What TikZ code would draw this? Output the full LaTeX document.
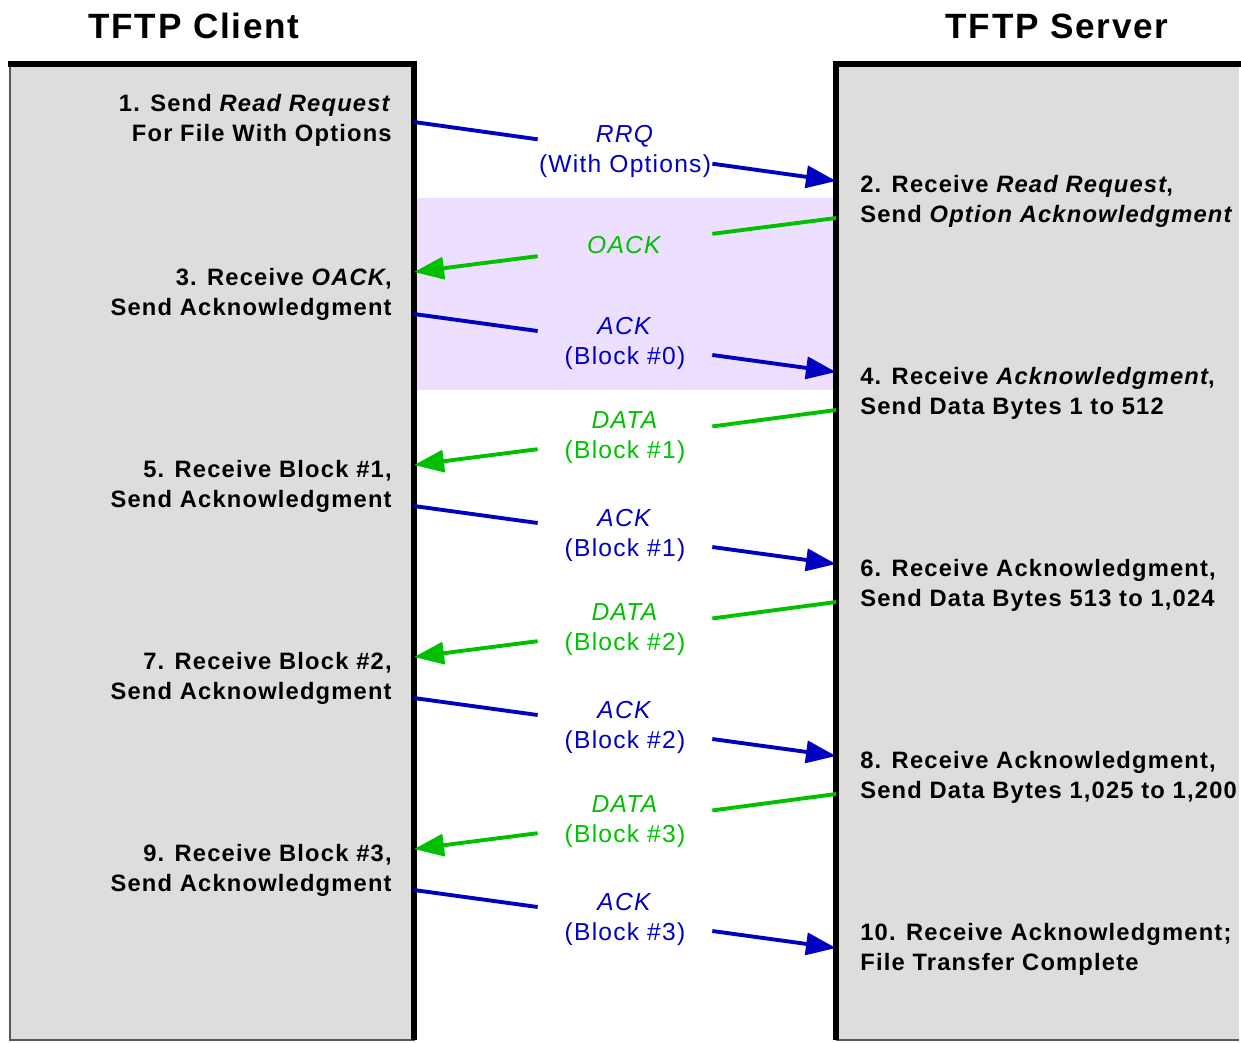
\documentclass[tikz,border=0pt]{standalone}
\usepackage{fontspec}
\setmainfont{Liberation Sans}[LetterSpace=5]
\usepackage{tikz}
\usetikzlibrary{arrows.meta}
\definecolor{requestc}{HTML}{0000C0}
\definecolor{replyc}{HTML}{00C000}
\definecolor{panelc}{HTML}{DDDDDD}
\definecolor{bandc}{HTML}{EDDFFF}
\tikzset{
  titlenode/.style={inner sep=0pt, font=\fontsize{20}{24}\selectfont\bfseries},
  stagenode/.style={inner sep=0pt, font=\fontsize{13.5}{17.07}\selectfont\bfseries},
  clientnode/.style={stagenode, anchor=east, align=right},
  servernode/.style={stagenode, anchor=west, align=left},
  msgnode/.style={inner sep=0pt, minimum width=3.48cm, minimum height=0.9cm,
    align=center, font=\fontsize{14}{17.07}\selectfont},
  requestnode/.style={msgnode, text=requestc},
  replynode/.style={msgnode, text=replyc},
  requestedge/.style={draw=requestc, line width=2.2pt},
  replyedge/.style={draw=replyc, line width=2.2pt},
  tipped/.style={-{Triangle[length=6mm, width=4.4mm]}},
  panel/.style={fill=panelc, draw=black!65, line width=0.8pt},
  rim/.style={draw=black, line width=3.2pt},
}

\begin{document}
\begin{tikzpicture}[x=0.02cm, y=-0.02cm]
  \useasboundingbox (0,0) rectangle (1241,1042);
  % the two hosts
  \draw[panel] (10,64) rectangle (414,1040);
  \fill[panelc] (836,64) rectangle (1239,1040);
  \draw[black!65, line width=0.8pt] (836,1040) -- (1239,1040);
  \fill[bandc] (414,198) rectangle (836,390);
  \draw[rim] (8,64) -- (414,64) -- (414,1040);
  \draw[rim] (836,1040) -- (836,64) -- (1241,64);
  \node[titlenode] (clienttitle) at (194,26) {TFTP Client};
  \node[titlenode] (servertitle) at (1057,26) {TFTP Server};

  % client steps
  \node[clientnode] (c1) at (392,120) {1. Send \textit{Read Request}\\For File With Options};
  \node[clientnode] (c3) at (392,294) {3. Receive \textit{OACK},\\Send Acknowledgment};
  \node[clientnode] (c5) at (392,486) {5. Receive Block \#1,\\Send Acknowledgment};
  \node[clientnode] (c7) at (392,678) {7. Receive Block \#2,\\Send Acknowledgment};
  \node[clientnode] (c9) at (392,870) {9. Receive Block \#3,\\Send Acknowledgment};

  % server steps
  \node[servernode] (s2) at (860,201) {2. Receive \textit{Read Request},\\Send \textit{Option Acknowledgment}};
  \node[servernode] (s4) at (860,393) {4. Receive \textit{Acknowledgment},\\Send Data Bytes 1 to 512};
  \node[servernode] (s6) at (860,585) {6. Receive Acknowledgment,\\Send Data Bytes 513 to 1,024};
  \node[servernode] (s8) at (860,777) {8. Receive Acknowledgment,\\Send Data Bytes 1,025 to 1,200};
  \node[servernode] (s10) at (860,949) {10. Receive Acknowledgment;\\File Transfer Complete};

  % read request
  \coordinate (rrqa) at (414,122);
  \coordinate (rrqb) at (836,181);
  \node[requestnode] (rrq) at (625,151.5) {\textit{RRQ}\\(With Options)};
  \draw[requestedge] (rrqa) -- (rrq);
  \draw[requestedge, tipped] (rrq) -- (rrqb);

  % option ack
  \coordinate (oackb) at (836,218);
  \coordinate (oacka) at (414,272);
  \node[replynode] (oack) at (625,245) {\textit{OACK}};
  \draw[replyedge] (oackb) -- (oack);
  \draw[replyedge, tipped] (oack) -- (oacka);

  % ack 0
  \coordinate (ack0a) at (414,314);
  \coordinate (ack0b) at (836,372);
  \node[requestnode] (ack0) at (625,343) {\textit{ACK}\\(Block \#0)};
  \draw[requestedge] (ack0a) -- (ack0);
  \draw[requestedge, tipped] (ack0) -- (ack0b);

  % data 1
  \coordinate (data1b) at (836,410);
  \coordinate (data1a) at (414,465);
  \node[replynode] (data1) at (625,438) {\textit{DATA}\\(Block \#1)};
  \draw[replyedge] (data1b) -- (data1);
  \draw[replyedge, tipped] (data1) -- (data1a);

  % ack 1
  \coordinate (ack1a) at (414,506);
  \coordinate (ack1b) at (836,564);
  \node[requestnode] (ack1) at (625,535) {\textit{ACK}\\(Block \#1)};
  \draw[requestedge] (ack1a) -- (ack1);
  \draw[requestedge, tipped] (ack1) -- (ack1b);

  % data 2
  \coordinate (data2b) at (836,602);
  \coordinate (data2a) at (414,657);
  \node[replynode] (data2) at (625,630) {\textit{DATA}\\(Block \#2)};
  \draw[replyedge] (data2b) -- (data2);
  \draw[replyedge, tipped] (data2) -- (data2a);

  % ack 2
  \coordinate (ack2a) at (414,698);
  \coordinate (ack2b) at (836,756);
  \node[requestnode] (ack2) at (625,727) {\textit{ACK}\\(Block \#2)};
  \draw[requestedge] (ack2a) -- (ack2);
  \draw[requestedge, tipped] (ack2) -- (ack2b);

  % data 3
  \coordinate (data3b) at (836,794);
  \coordinate (data3a) at (414,849);
  \node[replynode] (data3) at (625,822) {\textit{DATA}\\(Block \#3)};
  \draw[replyedge] (data3b) -- (data3);
  \draw[replyedge, tipped] (data3) -- (data3a);

  % ack 3
  \coordinate (ack3a) at (414,890);
  \coordinate (ack3b) at (836,948);
  \node[requestnode] (ack3) at (625,919) {\textit{ACK}\\(Block \#3)};
  \draw[requestedge] (ack3a) -- (ack3);
  \draw[requestedge, tipped] (ack3) -- (ack3b);
\end{tikzpicture}
\end{document}
